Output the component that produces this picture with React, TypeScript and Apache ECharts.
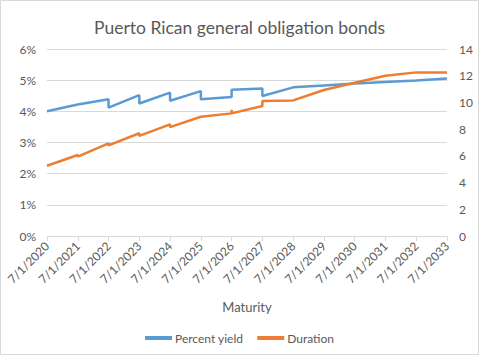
import React, { useEffect, useRef } from "react";
import * as echarts from "echarts";

const maturityYears = [2020, 2021, 2021, 2022, 2022, 2023, 2023, 2024, 2024, 2025, 2025, 2026, 2026, 2026, 2027, 2027, 2028, 2029, 2030, 2031, 2032, 2033];
const percentYield = [4.0, 4.22, 4.22, 4.39, 4.12, 4.52, 4.25, 4.6, 4.34, 4.65, 4.39, 4.46, 4.69, 4.69, 4.73, 4.49, 4.77, 4.83, 4.89, 4.94, 4.99, 5.05];
const duration = [5.26, 6.06, 5.95, 6.94, 6.78, 7.69, 7.5, 8.36, 8.15, 8.93, 8.9, 9.18, 9.45, 9.18, 9.73, 10.1, 10.15, 10.93, 11.47, 12.0, 12.25, 12.25];
const labelPrefix = "7/1/";

const FONT = "Lato";
const TEXT = "#595959";
const GRID = "#d9d9d9";

export default function App() {
  const ref = useRef<HTMLDivElement>(null);
  useEffect(() => {
    const chart = echarts.init(ref.current!, null, { renderer: "svg" });
    chart.setOption({
      animation: false,
      backgroundColor: "#ffffff",
      textStyle: { fontFamily: FONT },
      title: {
        text: "Puerto Rican general obligation bonds",
        left: "center",
        top: 13,
        textStyle: { fontFamily: FONT, fontSize: 17.5, fontWeight: "normal", color: TEXT },
      },
      graphic: [
        {
          type: "rect",
          shape: { x: 0.5, y: 0.5, width: 478, height: 354 },
          style: { fill: "none", stroke: GRID, lineWidth: 1 },
          silent: true,
        },
      ],
      legend: {
        top: 327,
        left: "center",
        itemWidth: 27,
        itemHeight: 4,
        itemGap: 14,
        icon: "rect",
        textStyle: { fontFamily: FONT, fontSize: 12, color: TEXT, padding: [0, 0, 0, -2] },
        data: ["Percent yield", "Duration"],
      },
      grid: { left: 47, right: 32, top: 49, bottom: 119, containLabel: false },
      xAxis: {
        type: "value",
        min: 2020,
        max: 2033,
        interval: 1,
        name: "Maturity",
        nameLocation: "middle",
        nameGap: 64,
        nameTextStyle: { fontFamily: FONT, fontSize: 13, color: TEXT },
        axisLine: { show: true, lineStyle: { color: GRID } },
        axisTick: { show: true, length: 5, lineStyle: { color: GRID } },
        splitLine: { show: false },
        axisLabel: {
          rotate: 45,
          margin: 8,
          fontFamily: FONT,
          fontSize: 12,
          color: TEXT,
          formatter: (v: number) => labelPrefix + v,
        },
      },
      yAxis: [
        {
          type: "value",
          min: 0,
          max: 6,
          interval: 1,
          axisLine: { show: false },
          axisTick: { show: false },
          splitLine: { show: true, lineStyle: { color: GRID } },
          axisLabel: { fontFamily: FONT, fontSize: 12, color: TEXT, margin: 11, formatter: (v: number) => v + "%" },
        },
        {
          type: "value",
          min: 0,
          max: 14,
          interval: 2,
          axisLine: { show: false },
          axisTick: { show: false },
          splitLine: { show: false },
          axisLabel: { fontFamily: FONT, fontSize: 12, color: TEXT, margin: 12 },
        },
      ],
      series: [
        {
          name: "Percent yield",
          type: "line",
          yAxisIndex: 0,
          showSymbol: false,
          symbol: "none",
          color: "#5b9bd5",
          lineStyle: { width: 2.5, color: "#5b9bd5" },
          data: maturityYears.map((y, i) => [y, percentYield[i]]),
        },
        {
          name: "Duration",
          type: "line",
          yAxisIndex: 1,
          showSymbol: false,
          symbol: "none",
          color: "#ed7d31",
          lineStyle: { width: 2.5, color: "#ed7d31" },
          data: maturityYears.map((y, i) => [y, duration[i]]),
        },
      ],
    });
    return () => chart.dispose();
  }, []);
  return <div ref={ref} style={{ position: "absolute", left: 0, top: 0, width: 479, height: 355 }} />;
}
